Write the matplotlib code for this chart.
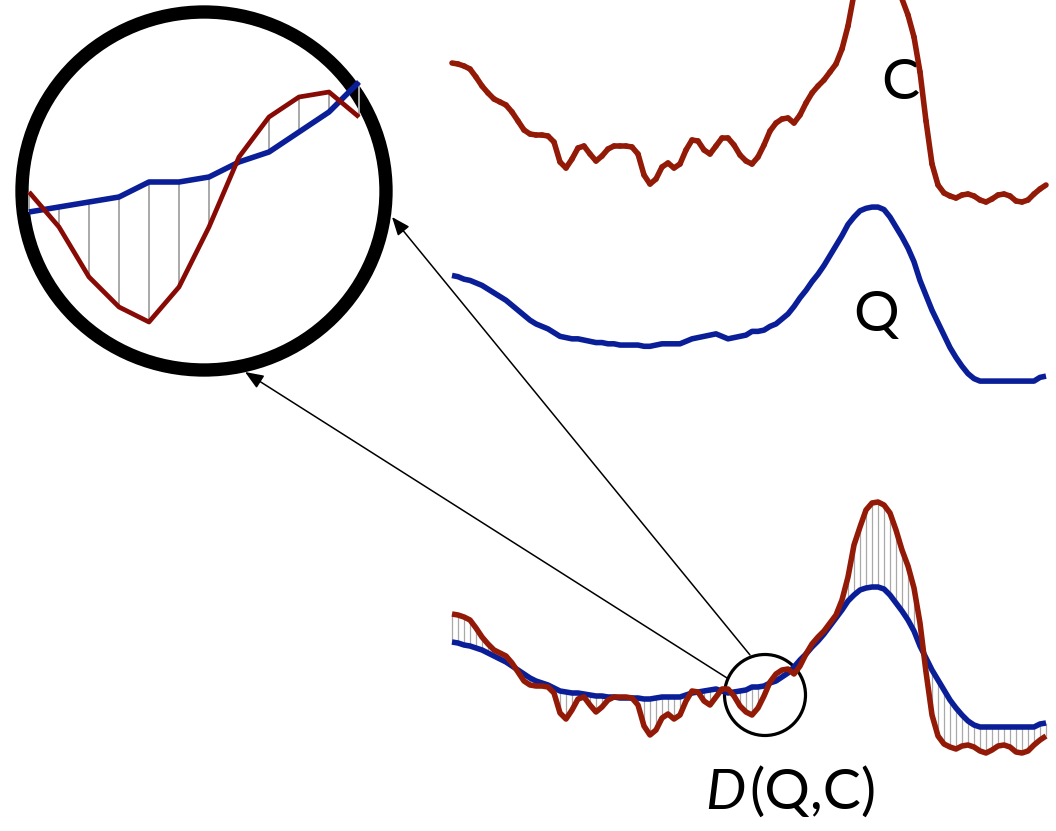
import numpy as np
import matplotlib
matplotlib.use("Agg")
import matplotlib.pyplot as plt
from matplotlib.patches import Ellipse
from matplotlib.collections import LineCollection

# Candidate series C and query series Q, sampled at equal time steps
C = [113, 112, 110, 107, 99, 90, 83, 77, 74, 71,
     64, 55, 46, 42, 41, 41, 40, 34, 14, 8,
     17, 28, 30, 22, 15, 20, 27, 30, 30, 30,
     29, 22, 1, -8, -3, 9, 13, 8, 12, 26,
     36, 35, 26, 22, 30, 38, 38, 31, 21, 15,
     12, 19, 31, 45, 53, 57, 58, 53, 61, 73,
     83, 90, 96, 104, 112, 127, 150, 182, 200, 217,
     224, 225, 222, 214, 197, 177, 161, 139, 104, 55,
     12, -9, -17, -20, -22, -19, -18, -20, -24, -26,
     -23, -19, -18, -20, -25, -26, -24, -18, -13, -9]

Q = [85, 84, 82, 81, 79, 77, 74, 71, 68, 65,
     61, 57, 53, 49, 46, 44, 42, 39, 36, 35,
     34, 34, 33, 32, 31, 31, 30, 30, 29, 29,
     29, 29, 28, 28, 29, 30, 30, 30, 30, 32,
     34, 35, 36, 37, 38, 36, 34, 35, 36, 37,
     40, 40, 41, 44, 46, 50, 54, 60, 67, 73,
     80, 86, 93, 101, 109, 117, 126, 132, 137, 139,
     140, 140, 138, 132, 124, 116, 107, 96, 81, 69,
     57, 47, 37, 27, 19, 12, 6, 2, 0, 0,
     0, 0, 0, 0, 0, 0, 0, 0, 3, 4]

# Samples shown in the magnified view
zoom_start, zoom_stop = 46, 58

t = np.arange(len(C))
C = np.array(C, dtype=float)
Q = np.array(Q, dtype=float)

RED = "#921A06"
BLUE = "#0A1E98"
GRAY = "#A9A9A9"
LW = 4.0
LINE = dict(solid_joinstyle="round", solid_capstyle="butt")

W, H = 1056, 831
fig = plt.figure(figsize=(W / 100, H / 100), dpi=100)


def layer(xlim, ylim, z):
    a = fig.add_axes([0, 0, 1, 1], zorder=z)
    a.set_xlim(*xlim)
    a.set_ylim(*ylim)
    a.axis("off")
    a.patch.set_alpha(0)
    return a


# Annotation layer in figure pixel units
ann = layer((0, W), (H, 0), 1)

# Shared time axis: 6 px per step, first sample at x = 452
x_lim = (-452 / 6, (W - 452) / 6)

# Top: C alone; its peak runs off the top edge, so it is drawn
# segment by segment to keep the clipped part cleanly cut
ax_c = layer(x_lim, (176 - H, 176), 2)
pts = np.column_stack([t, C])
segs = np.stack([pts[:-1], pts[1:]], axis=1)
ax_c.add_collection(LineCollection(segs, colors=RED, linewidths=LW,
                                   capstyle="round", joinstyle="round"))

# Middle: Q alone, drawn about 1.24x taller
k = 1.243
ax_q = layer(x_lim, ((381.1 - H) / k, 381.1 / k), 2)
ax_q.plot(t, Q, color=BLUE, lw=LW, **LINE)

# Bottom: both series with point-to-point distances
ax_d = layer(x_lim, (727 - H, 727), 2)
ax_d.vlines(t, Q, C, color=GRAY, lw=0.9, zorder=1)
ax_d.plot(t, Q, color=BLUE, lw=LW, zorder=2, **LINE)
ax_d.plot(t, C, color=RED, lw=LW, zorder=3, **LINE)

# Magnified view (5x) of the circled region
m = 5.0
cx_t = (763 - 452) / 6
ax_z = layer((cx_t - 204 / (6 * m), cx_t + (W - 204) / (6 * m)),
             ((382 - H) / m, 382 / m), 4)
sl = slice(zoom_start, zoom_stop)
ax_z.vlines(t[sl], Q[sl], C[sl], color=GRAY, lw=1.4, zorder=1)
ax_z.plot(t[sl], Q[sl], color=BLUE, lw=LW, zorder=2, **LINE)
ax_z.plot(t[sl], C[sl], color="#880A05", lw=3.4, zorder=3, **LINE)

# Circles and connecting arrows
ann.add_patch(Ellipse((765, 695), 81, 81, fill=False, ec="black", lw=2.3))
ann.add_patch(Ellipse((204, 191), 364, 358, fill=False, ec="black", lw=9.6))
arrow = dict(arrowstyle="-|>,head_length=0.7,head_width=0.28", color="black",
             lw=1.1, mutation_scale=16, shrinkA=0, shrinkB=0)
ann.annotate("", xy=(392, 217), xytext=(750, 655), arrowprops=arrow)
ann.annotate("", xy=(245, 372), xytext=(727, 678), arrowprops=arrow)

# Labels
font = ["Lato", "DejaVu Sans"]
lab = dict(fontsize=41, family=font, va="baseline", color="black")
ann.text(900, 99, "C", ha="center", **lab)
ann.text(876, 331, "Q", ha="center", **lab)
ann.text(746, 809, "D", ha="right", style="italic", **lab)
ann.text(749, 809, "(Q,C)", ha="left", **lab)

fig.savefig("out.png", dpi=100)
